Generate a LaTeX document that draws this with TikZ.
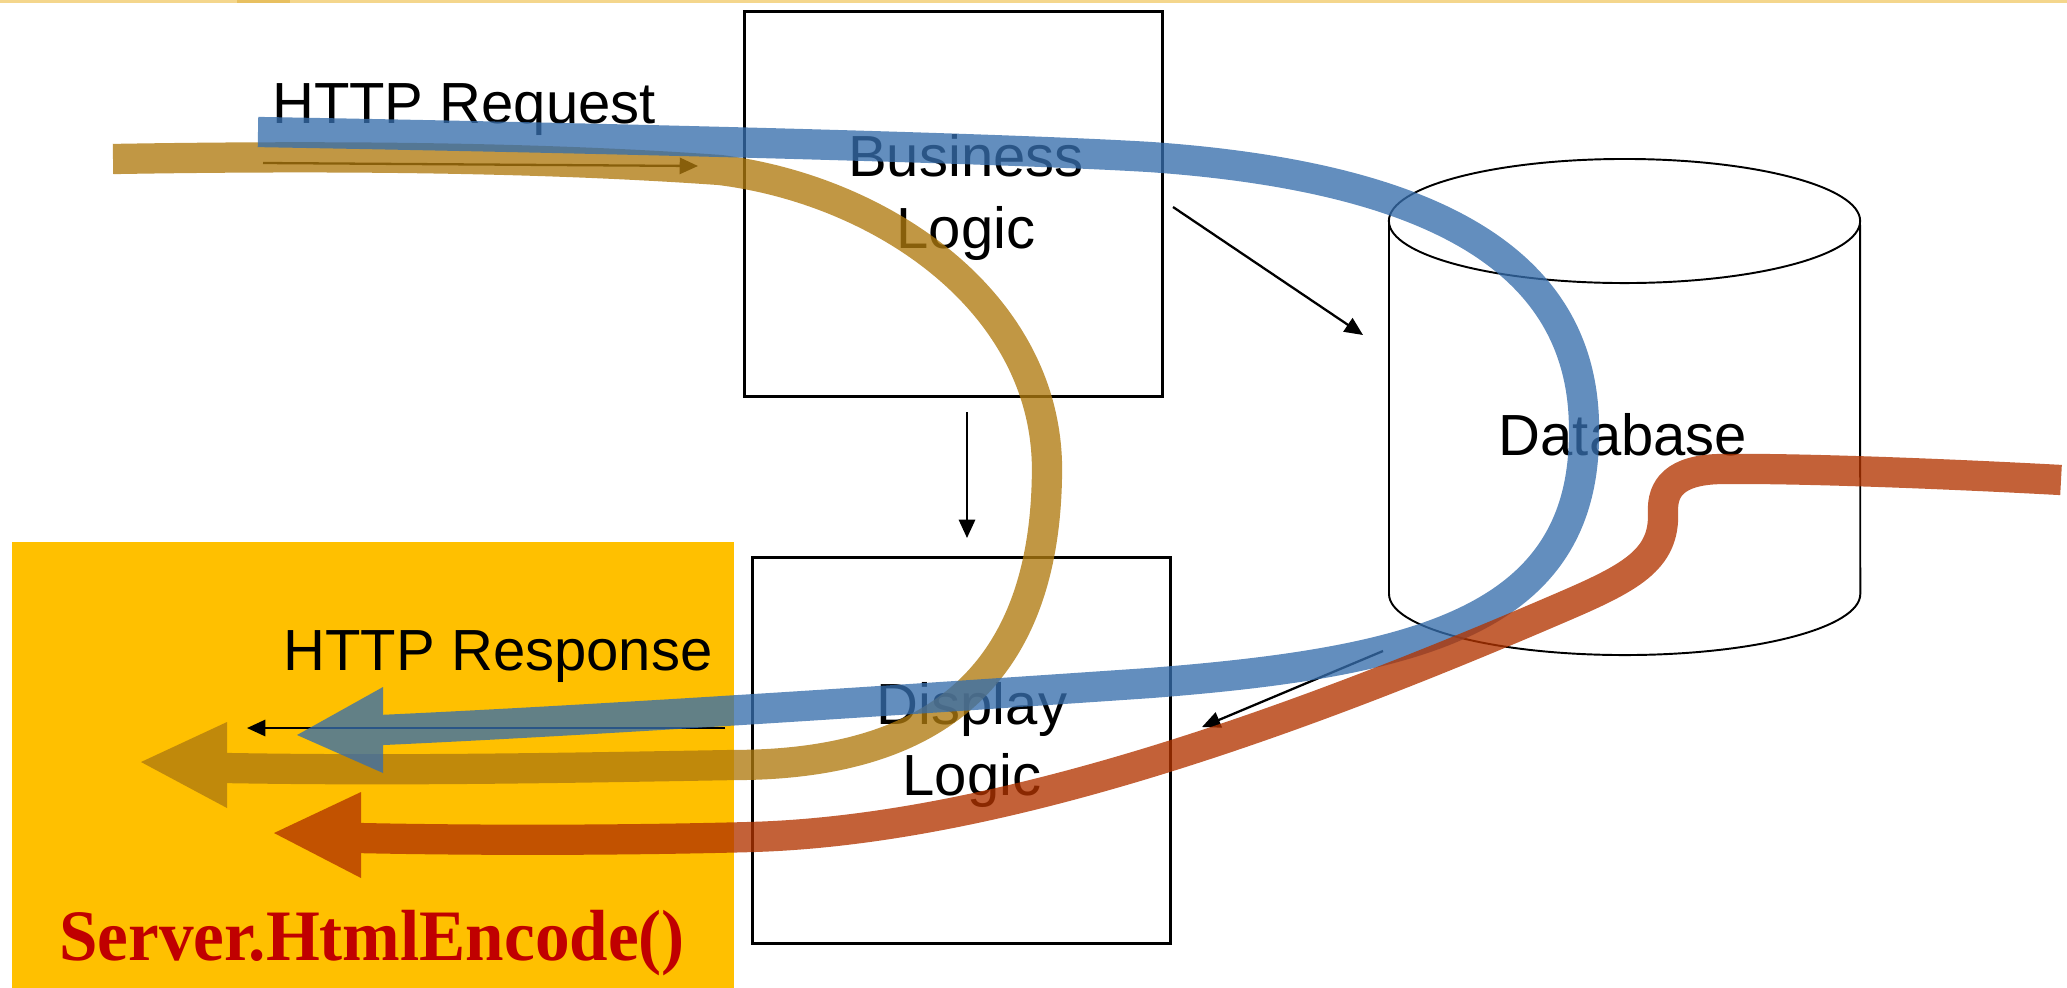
\documentclass[tikz,border=0pt]{standalone}
\usepackage{fontspec}
\setmainfont{Liberation Sans}
\newfontfamily\encfont{Liberation Serif}
\usetikzlibrary{arrows.meta}
\definecolor{boxgold}{RGB}{255,192,0}
\definecolor{encred}{RGB}{192,0,0}
\definecolor{bandblue}{RGB}{55,110,172}
\definecolor{bandgold}{RGB}{175,122,15}
\definecolor{bandred}{RGB}{178,52,0}
\definecolor{topline}{RGB}{244,214,140}
\definecolor{toplinedark}{RGB}{232,192,96}
\begin{document}
\begin{tikzpicture}[x=0.01cm,y=-0.01cm,
  lbl/.style={font=\fontsize{16.5}{20.2}\selectfont, inner sep=0pt, align=center},
  logicbox/.style={draw=black, line width=0.8pt, inner sep=0pt, anchor=north west,
     minimum width=4.18cm, minimum height=3.85cm},
  thinarrow/.style={draw=black, line width=0.65pt, -{Triangle[length=5.2pt,width=4.6pt]}},
  band/.style={line width=8.6pt, line cap=butt, line join=round},
  dbline/.style={draw=black, line width=0.55pt},
]
\useasboundingbox (0,0) rectangle (2067,987);
% background panel
\node[fill=boxgold, inner sep=0pt, anchor=north west, minimum width=7.22cm, minimum height=4.46cm] (encbox) at (11,541) {};
\fill[topline] (0,0) rectangle (2067,3);
\fill[toplinedark] (237,0) rectangle (290,3);

% boxes
\node[logicbox] (bl) at (743,10) {};
\node[logicbox, minimum height=3.86cm] (dl) at (751,556) {};
\node[lbl] (bltext) at (966,197.5) {Business\\Logic};
\node[lbl] (dltext) at (972,745) {Display\\Logic};

% database
\draw[dbline] (1389,221) -- (1389,594) arc[start angle=180, end angle=360, x radius=2.355cm, y radius=0.61cm] -- (1860,221);
\draw[dbline] (1624.5,221) ellipse[x radius=2.355cm, y radius=0.62cm];
\node[lbl, anchor=base] (dbtext) at (1623,455) {Database};

% labels
\node[lbl, anchor=base] (reqlbl) at (464,123) {HTTP Request};
\node[lbl, anchor=base] (resplbl) at (498,670) {HTTP Response};
\node[inner sep=0pt, anchor=base, text=encred, font=\encfont\bfseries\fontsize{20.6}{24}\selectfont] (enc) at (372,960) {\scalebox{0.955}[1]{Server.HtmlEncode()}};

% thin arrows
\coordinate (reqA) at (263,163); \coordinate (reqB) at (698,166);
\coordinate (bdA) at (1173,207); \coordinate (bdB) at (1363,335);
\coordinate (bbA) at (967,412); \coordinate (bbB) at (967,538);
\coordinate (ddA) at (1383,651); \coordinate (ddB) at (1202,727);
\coordinate (rsA) at (725,728); \coordinate (rsB) at (247,728);
\draw[thinarrow] (reqA) -- (reqB);
\draw[thinarrow] (bdA) -- (bdB);
\draw[thinarrow] (bbA) -- (bbB);
\draw[thinarrow] (ddA) -- (ddB);
\draw[thinarrow] (rsA) -- (rsB);

% band end points
\coordinate (g0) at (113,159); \coordinate (g1) at (226,768);
\coordinate (b0) at (258,132); \coordinate (b1) at (381,730);
\coordinate (r0) at (2061,480); \coordinate (r1) at (359,838);

% gold band
\begin{scope}[transparency group, opacity=0.78]
\draw[band, bandgold] (g0) .. controls (350,155) and (550,158) .. (720,170)
  .. controls (880,190) and (1045,300) .. (1047,467)
  .. controls (1047,680) and (930,765) .. (733,765)
  .. controls (560,768) and (400,771) .. (g1);
\fill[bandgold] (227,722) -- (141,762) -- (227,808) -- cycle;
\end{scope}
% blue band
\begin{scope}[transparency group, opacity=0.78]
\draw[band, bandblue] (b0) .. controls (600,138) and (1000,148) .. (1150,157)
  .. controls (1450,178) and (1586,270) .. (1584,433)
  .. controls (1584,620) and (1420,662) .. (1150,683)
  .. controls (900,700) and (600,720) .. (b1);
\fill[bandblue] (383,687) -- (297,735) -- (383,773) -- cycle;
\end{scope}
% red band
\begin{scope}[transparency group, opacity=0.78]
\draw[band, bandred] (r0) .. controls (1950,474) and (1800,468) .. (1720,469)
  .. controls (1675,470) and (1662,488) .. (1663,512)
  .. controls (1665,560) and (1630,578) .. (1560,608)
  .. controls (1300,720) and (1000,830) .. (751,837)
  .. controls (600,841) and (450,840) .. (r1);
\fill[bandred] (361,792) -- (274,833) -- (361,878) -- cycle;
\end{scope}
\end{tikzpicture}
\end{document}
